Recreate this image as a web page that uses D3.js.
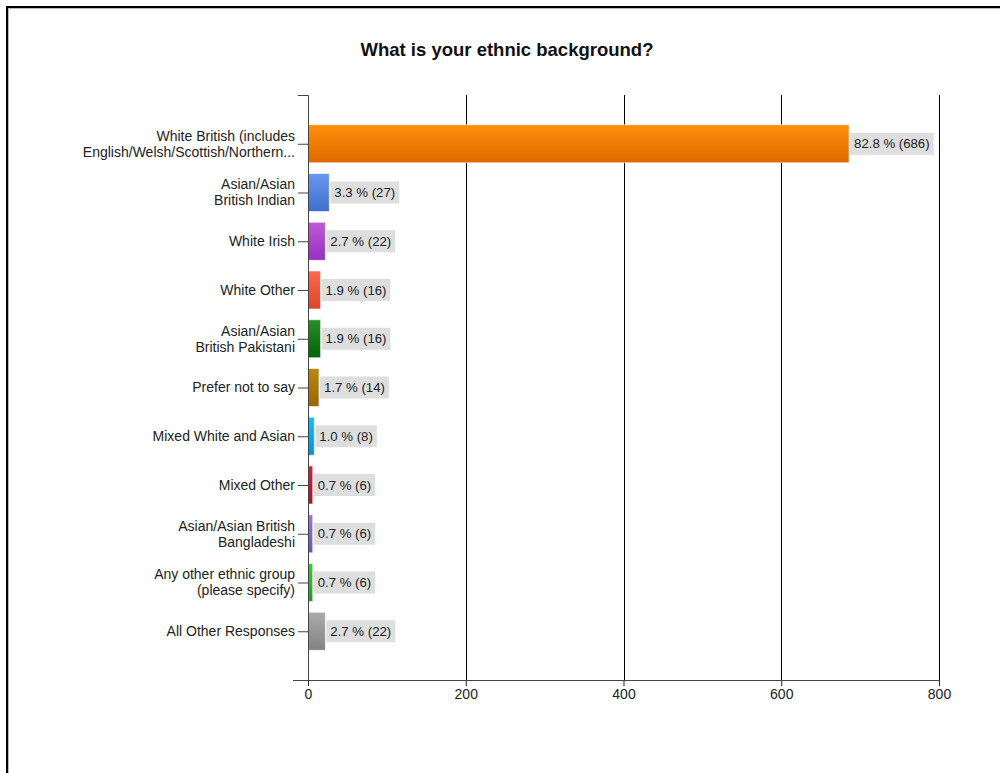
<!DOCTYPE html>
<html>
<head>
<meta charset="utf-8">
<script src="https://cdn.jsdelivr.net/npm/d3@7"></script>
<style>
  html, body { margin: 0; padding: 0; background: #fff; }
  svg { display: block; font-family: "Liberation Sans", Arial, sans-serif; }
</style>
</head>
<body>
<svg id="chart" width="1000" height="773"></svg>
<script>
// Survey answers, top to bottom
const categories = [
  ["White British (includes", "English/Welsh/Scottish/Northern..."],
  ["Asian/Asian", "British Indian"],
  ["White Irish"],
  ["White Other"],
  ["Asian/Asian", "British Pakistani"],
  ["Prefer not to say"],
  ["Mixed White and Asian"],
  ["Mixed Other"],
  ["Asian/Asian British", "Bangladeshi"],
  ["Any other ethnic group", "(please specify)"],
  ["All Other Responses"]
];
const counts = [686, 27, 22, 16, 16, 14, 8, 6, 6, 6, 22];
const percents = ["82.8", "3.3", "2.7", "1.9", "1.9", "1.7", "1.0", "0.7", "0.7", "0.7", "2.7"];
const xTicks = [0, 200, 400, 600, 800];
// top and bottom shade of each bar
const barTop = ["#FF8F0A", "#6A98EE", "#BE5AD6", "#FF684D", "#279027", "#BA880E", "#10C2FF", "#DE1C42", "#9977DE", "#36D136", "#ABABAB"];
const barBottom = ["#DD6A00", "#3F6ECF", "#952FC4", "#DD4526", "#036403", "#9A6600", "#0090DD", "#B40E2E", "#7250C2", "#1E9E1E", "#828282"];

const svg = d3.select("#chart");

// outer frame
svg.append("rect").attr("x", 7).attr("y", 7).attr("width", 1100).attr("height", 900)
  .attr("fill", "none").attr("stroke", "#000").attr("stroke-width", 2);
svg.append("rect").attr("x", 8.5).attr("y", 8.5).attr("width", 1100).attr("height", 900)
  .attr("fill", "none").attr("stroke", "#bbb").attr("stroke-width", 1);

svg.append("text").attr("x", 507).attr("y", 56).attr("text-anchor", "middle")
  .attr("font-size", 18.5).attr("font-weight", "bold").attr("fill", "#111")
  .text("What is your ethnic background?");

const plotTop = 95, plotBottom = 680, x0 = 308, x1 = 939;
const x = d3.scaleLinear().domain([0, 800]).range([x0, x1]);
const y = d3.scalePoint().domain(d3.range(categories.length)).range([plotTop, plotBottom]).padding(1);
const barH = y.step() * 0.78;

const defs = svg.append("defs");
barTop.forEach((c, i) => {
  const g = defs.append("linearGradient").attr("id", "g" + i)
    .attr("x1", 0).attr("y1", 0).attr("x2", 0).attr("y2", 1);
  g.append("stop").attr("offset", "0%").attr("stop-color", c);
  g.append("stop").attr("offset", "100%").attr("stop-color", barBottom[i]);
});

// vertical grid lines
svg.append("g").selectAll("line").data(xTicks.slice(1)).join("line")
  .attr("x1", d => Math.round(x(d)) + 0.5).attr("x2", d => Math.round(x(d)) + 0.5)
  .attr("y1", plotTop).attr("y2", plotBottom)
  .attr("stroke", "#000").attr("stroke-width", 1);

// bars
svg.append("g").selectAll("rect").data(counts).join("rect")
  .attr("x", x(0)).attr("y", (d, i) => y(i) - barH / 2)
  .attr("width", d => x(d) - x(0)).attr("height", barH)
  .attr("fill", (d, i) => `url(#g${i})`)
  .attr("stroke", "rgba(255,255,255,0.6)").attr("stroke-width", 1);

// value labels
const lab = svg.append("g").selectAll("g").data(counts).join("g")
  .attr("transform", (d, i) => `translate(${x(d) + 1},${y(i)})`);
lab.append("text")
  .attr("x", 4).attr("dy", "0.35em").attr("font-size", 13.2).attr("fill", "#222")
  .text((d, i) => `${percents[i]} % (${d})`)
  .each(function () {
    const w = this.getComputedTextLength();
    d3.select(this.parentNode).insert("rect", "text")
      .attr("x", 0).attr("y", -11).attr("width", w + 8).attr("height", 22)
      .attr("fill", "#dedede");
  });

// x axis
const xAxis = svg.append("g").attr("transform", `translate(0,${plotBottom})`)
  .call(d3.axisBottom(x).tickValues(xTicks).tickSize(6).tickSizeOuter(0));
xAxis.select(".domain").remove();
xAxis.append("line").attr("x1", 293).attr("x2", x1 + 0.5).attr("y1", 0.5).attr("y2", 0.5)
  .attr("stroke", "#444");
xAxis.selectAll(".tick line").attr("stroke", "#222");
xAxis.selectAll(".tick text").attr("font-size", 14).attr("fill", "#222")
  .attr("font-family", "Liberation Sans, Arial, sans-serif").attr("y", 9);

// y axis
const yAxis = svg.append("g").attr("transform", `translate(${x0},0)`)
  .call(d3.axisLeft(y).tickSize(10).tickFormat(""));
yAxis.select(".domain").attr("d", `M-10,${plotTop + 0.5}H0.5V${plotBottom}`).attr("stroke", "#444");
yAxis.selectAll(".tick line").attr("stroke", "#444");

// category labels
const catG = svg.append("g");
categories.forEach((lines, i) => {
  const t = catG.append("text").attr("x", 295).attr("text-anchor", "end")
    .attr("font-size", 14).attr("fill", "#222");
  const off = (lines.length - 1) / 2;
  lines.forEach((s, k) => {
    t.append("tspan").attr("x", 295).attr("y", y(i) + (k - off) * 16).attr("dy", "0.35em").text(s);
  });
});
</script>
</body>
</html>
